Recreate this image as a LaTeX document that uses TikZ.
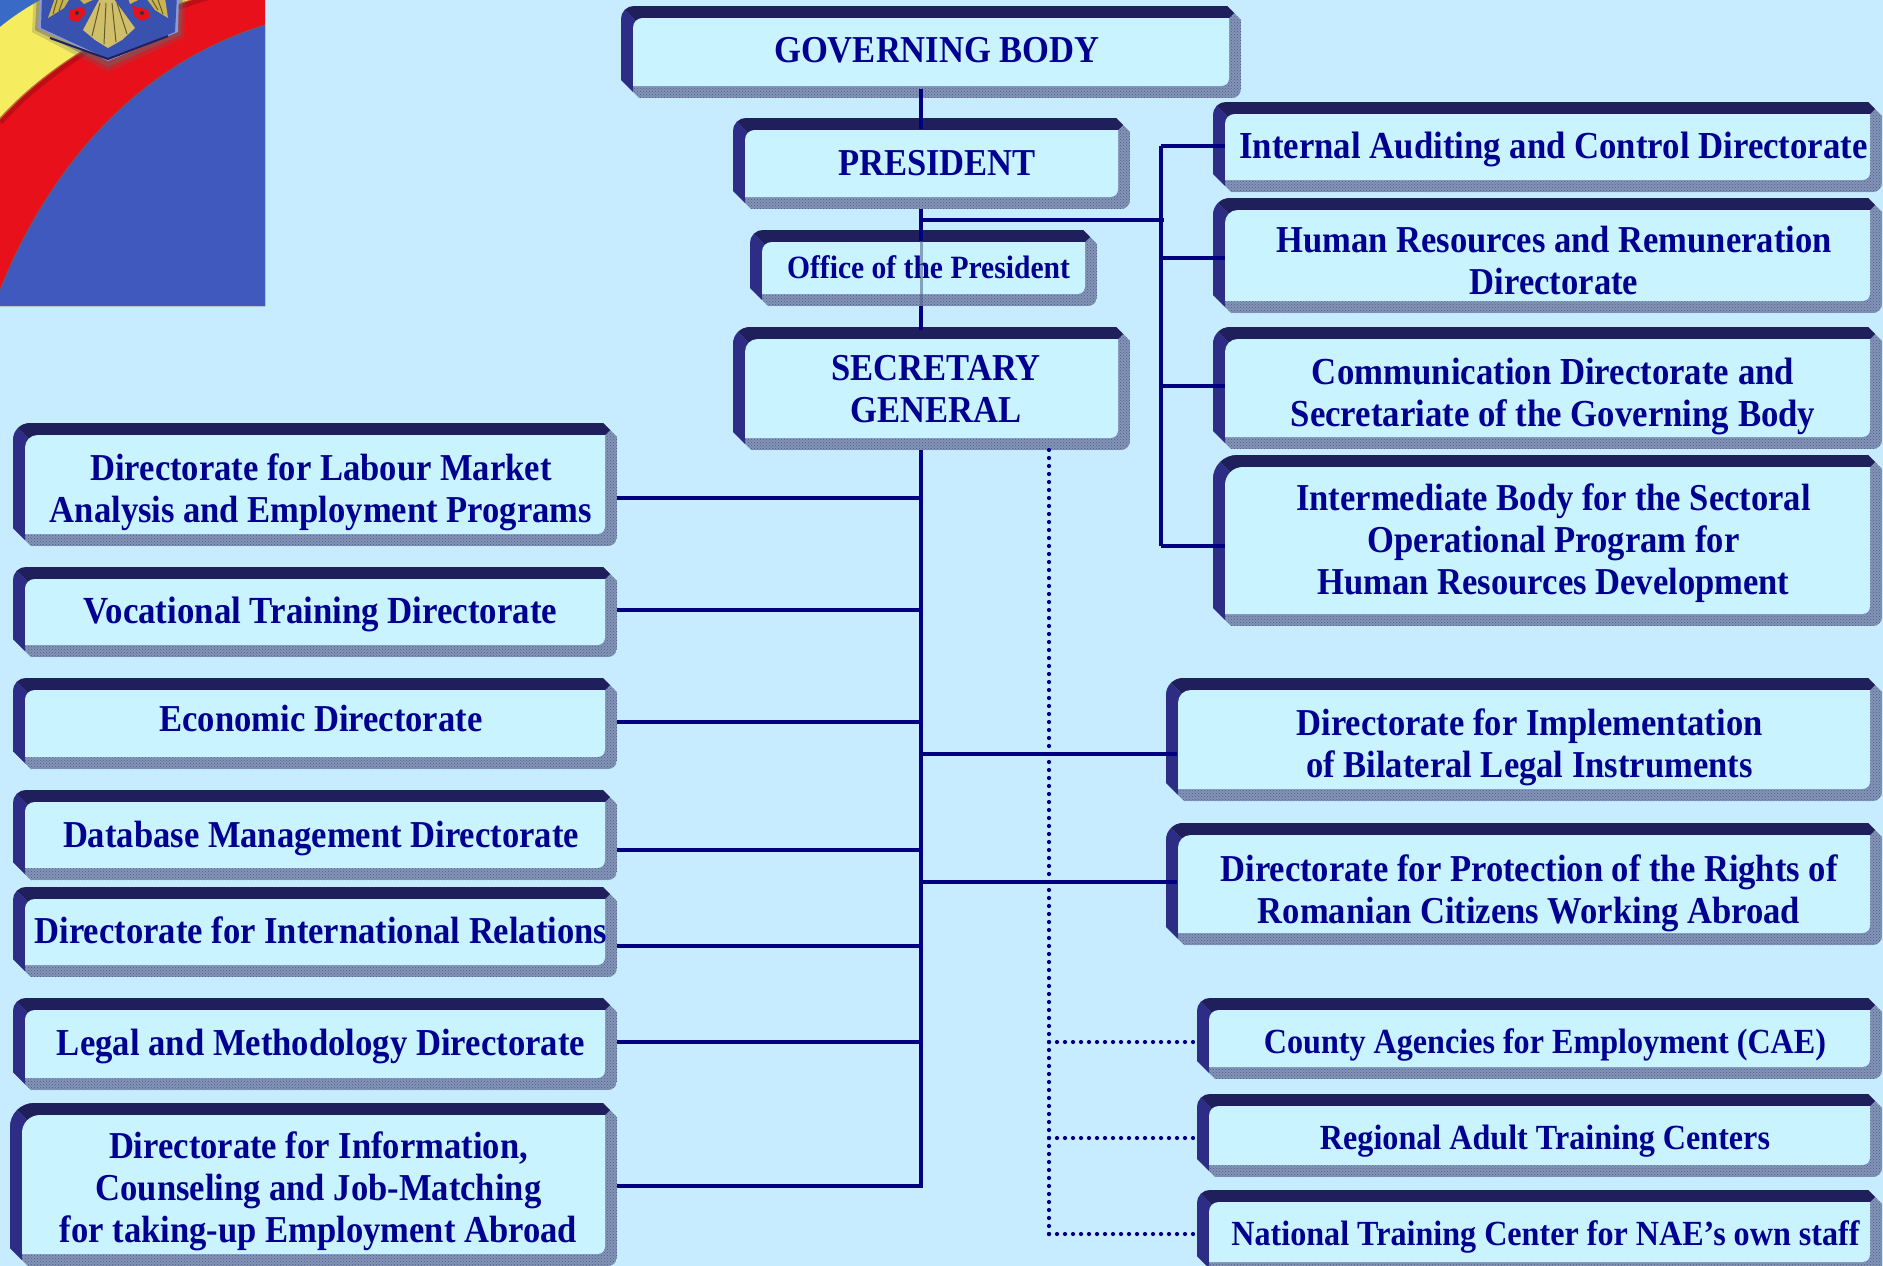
\documentclass[tikz,border=0pt]{standalone}
\usepackage{fontspec}
\setmainfont[FakeStretch=0.91]{Liberation Serif}
\usetikzlibrary{patterns}
\definecolor{bgcol}{HTML}{C8ECFF}
\definecolor{facecol}{HTML}{C9F3FF}
\definecolor{topcol}{HTML}{1F1F5C}
\definecolor{leftcol}{HTML}{2D2D85}
\definecolor{greycol}{HTML}{8494B8}
\definecolor{stipcol}{HTML}{4A5C88}
\definecolor{inkcol}{HTML}{000090}
\definecolor{linecol}{HTML}{000080}
\definecolor{logoblue}{HTML}{3F59BE}
\definecolor{logored}{HTML}{E8101A}
\definecolor{logoyellow}{HTML}{F5EC60}
\definecolor{logogold}{HTML}{C8B450}
\tikzset{
  boxframe/.style={inner sep=0pt,outer sep=0pt},
  boxtext/.style={inner sep=0pt,outer sep=0pt,align=center,text=inkcol,font=\bfseries},
  conn/.style={draw=linecol,line width=4pt},
  dotconn/.style={draw=linecol,line width=4.2pt,line cap=round,dash pattern=on 0pt off 8pt},
}
% [corner radius] name, x1, y1, x2, y2, font size, text position, text
\newcommand{\bevbox}[9][13]{%
  \begin{scope}
    \path[clip] ({#3+#1},#4) -- ({#5-14},#4) -- (#5,{#4+14}) -- (#5,{#6-9})
      .. controls (#5,{#6-4}) and ({#5-4},#6) .. ({#5-9},#6)
      -- ({#3+18},#6) -- (#3,{#6-18}) -- (#3,{#4+#1})
      .. controls (#3,{#4+0.45*#1}) and ({#3+0.45*#1},#4) .. ({#3+#1},#4) -- cycle;
    \fill[greycol] (#3,#4) rectangle (#5,#6);
    \fill[pattern=crosshatch dots,pattern color=stipcol] (#3,#4) rectangle (#5,#6);
    \fill[topcol] (#3,#4) -- (#5,#4) -- ({#5-12},{#4+12}) -- ({#3+30},{#4+12}) -- ({#3+30},{#4+30}) -- cycle;
    \fill[leftcol] (#3,#4) -- ({#3+30},{#4+30}) -- ({#3+12},{#4+30}) -- ({#3+12},#6) -- (#3,#6) -- cycle;
  \end{scope}
  \fill[facecol] ({#3+12+0.75*#1},{#4+12}) -- ({#5-12},{#4+12}) -- ({#5-12},{#6-12-8})
      .. controls ({#5-12},{#6-12-3}) and ({#5-12-3},{#6-12}) .. ({#5-12-8},{#6-12})
      -- ({#3+12},{#6-12}) -- ({#3+12},{#4+12+0.75*#1})
      .. controls ({#3+12},{#4+12+0.33*#1}) and ({#3+12+0.33*#1},{#4+12}) .. ({#3+12+0.75*#1},{#4+12}) -- cycle;
  \node[boxframe,minimum width={(#5-#3)*1pt},minimum height={(#6-#4)*1pt}] (#2) at ({(#3+#5)/2},{(#4+#6)/2}) {};
  \node[boxtext,font={\bfseries\fontsize{#7}{42}\selectfont}] (#2-text) at (#8) {#9};
}
\newcommand{\tln}[1]{\strut #1}
\begin{document}
\begin{tikzpicture}[x=1pt,y=-1pt]
\useasboundingbox (0,0) rectangle (1883,1266);
\fill[bgcol] (0,0) rectangle (1883,1266);
% emblem corner
\begin{scope}
  \clip (0,0) rectangle (265,306);
  \fill[logoblue!90!cyan] (0,0) rectangle (265,306);
  \fill[logoyellow] (0,27) .. controls (15,15) and (30,5) .. (50,-5) -- (265,-5) -- (265,306) -- (0,306) -- cycle;
  \fill[logored] (0,120) .. controls (40,75) and (110,25) .. (208,-5) -- (265,-5) -- (265,306) -- (0,306) -- cycle;
  \draw[logored!70!black,line width=6pt,opacity=.6] (0,122) .. controls (40,77) and (110,27) .. (208,-3);
  \fill[logoblue] (0,290) .. controls (40,190) and (120,70) .. (265,25) -- (265,306) -- (0,306) -- cycle;
  \draw[black!60,line width=1.2pt,opacity=.6] (0,290) .. controls (40,190) and (120,70) .. (265,25);
  \fill[black!60,opacity=.25] (34,-5) -- (32,32) -- (108,72) -- (184,38) -- (186,-5) -- cycle;
  \fill[black!60,opacity=.45] (37,-5) -- (35,30) -- (108,67) -- (181,35) -- (183,-5) -- cycle;
  \fill[logoblue!60!white] (40,-5) -- (38,28) -- (108,61) -- (178,32) -- (179,-5) -- cycle;
  \fill[logoblue!92!black] (42,-5) -- (41,28) -- (108,59) -- (175,32) -- (177,-5) -- cycle;
  \draw[topcol,line width=2pt] (50,38) -- (108,59) -- (168,36);
  % eagle
  \fill[logogold] (48,18) -- (55,-2) -- (70,-2) -- (64,8) -- cycle;
  \fill[logogold] (168,18) -- (165,-2) -- (146,-2) -- (155,10) -- cycle;
  \fill[logogold] (78,-2) -- (84,4) -- (97,-2) -- cycle;
  \fill[logogold] (128,-2) -- (130,4) -- (142,-2) -- cycle;
  \fill[logogold!85!white] (100,-2) -- (83,30) -- (95,40) -- (108,48) -- (122,40) -- (135,28) -- (113,-2) -- cycle;
  \draw[logogold!50!black,line width=1pt] (100,3) -- (92,36) (106,3) -- (104,44) (112,3) -- (116,42) (117,3) -- (127,34);
  \draw[logogold!50!black,line width=1pt] (57,0) -- (53,14) (63,0) -- (59,11) (158,0) -- (163,14) (152,0) -- (158,10);
  \fill[logored] (69,10) -- (84,7) -- (85,14) -- (78,22) -- (70,20) -- cycle;
  \fill[logored] (132,6) -- (148,10) -- (150,17) -- (142,21) -- (135,17) -- cycle;
  \fill[black!80] (77,13) circle (2);
  \fill[black!80] (142,13) circle (2);
\end{scope}
% boxes
\bevbox{gov}{621}{6}{1241}{98}{38}{937,54.5}{\tln{GOVERNING BODY}}
\bevbox{pres}{733}{118}{1130}{209}{38}{937,167}{\tln{PRESIDENT}}
\bevbox{office}{750}{230}{1097}{306}{32.5}{928.5,270.5}{\tln{Office of the President}}
\bevbox[17]{sec}{733}{327}{1130}{450}{38}{936,393.5}{\tln{SECRETARY}\\\tln{GENERAL}}
\bevbox{internal}{1213}{102}{1882}{192}{38.2}{1553.5,150.5}{\tln{Internal Auditing and Control Directorate}}
\bevbox[17]{human}{1213}{198}{1882}{313}{38}{1554,265}{\tln{Human Resources and Remuneration}\\\tln{Directorate}}
\bevbox[17]{comm}{1213}{327}{1882}{449}{38.2}{1553,397.5}{\tln{Communication Directorate and}\\\tln{Secretariate of the Governing Body}}
\bevbox[24]{inter}{1213}{455}{1882}{626}{38}{1553.5,544.5}{\tln{Intermediate Body for the Sectoral}\\\tln{Operational Program for}\\\tln{Human Resources Development}}
\bevbox[17]{labour}{13}{423}{617}{546}{38}{321,493.5}{\tln{Directorate for Labour Market}\\\tln{Analysis and Employment Programs}}
\bevbox{voc}{13}{567}{617}{657}{38.3}{320.5,615.3}{\tln{Vocational Training Directorate}}
\bevbox{eco}{13}{678}{617}{769}{38}{321,723.5}{\tln{Economic Directorate}}
\bevbox{db}{13}{790}{617}{880}{38}{321,839}{\tln{Database Management Directorate}}
\bevbox{intl}{13}{887}{617}{977}{38}{321,935}{\tln{Directorate for International Relations}}
\bevbox{legal}{13}{998}{617}{1090}{38.1}{321,1046.7}{\tln{Legal and Methodology Directorate}}
\bevbox[24]{info}{10}{1103}{617}{1266}{38}{318.5,1192.5}{\tln{Directorate for Information,}\\\tln{Counseling and Job-Matching}\\\tln{for taking-up Employment Abroad}}
\bevbox[17]{bilat}{1166}{678}{1882}{801}{38}{1529.5,748.5}{\tln{Directorate for Implementation}\\\tln{of Bilateral Legal Instruments}}
\bevbox[17]{prot}{1166}{823}{1882}{945}{38}{1529,894}{\tln{Directorate for Protection of the Rights of}\\\tln{Romanian Citizens Working Abroad}}
\bevbox{county}{1197}{998}{1882}{1079}{35.3}{1545,1045}{\tln{County Agencies for Employment (CAE)}}
\bevbox{regional}{1197}{1094}{1882}{1177}{35.3}{1545,1141}{\tln{Regional Adult Training Centers}}
\bevbox{national}{1197}{1190}{1882}{1274}{35.3}{1545.5,1237}{\tln{National Training Center for NAE’s own staff}}
% connectors
\coordinate (bus) at (921,0);
\coordinate (rbus) at (1161,0);
\coordinate (dbus) at (1049,0);
\coordinate (topjoin) at (921,220);
\draw[conn] (gov.south -| bus) ++(0,-9) -- ([yshift=-11pt]pres.north -| bus);
\draw[conn] (pres.south -| bus) -- ([yshift=-11pt]office.north -| bus);
\draw[draw=stipcol,line width=3pt,opacity=.55] ([yshift=-11pt]office.north -| bus) -- (office.south -| bus);
\draw[conn] (office.south -| bus) -- ([yshift=-3pt]sec.north -| bus);
\draw[conn] (sec.south -| bus) -- (bus |- 0,1188);
\draw[conn] (topjoin) -- ([xshift=3pt]rbus |- topjoin);
\draw[conn,line cap=square] (rbus |- 0,146) -- (rbus |- 0,546);
\foreach \n/\y in {internal/146,human/258,comm/386,inter/546}
  \draw[conn] (rbus |- 0,\y) -- ([xshift=12pt]\n.west |- 0,\y);
\foreach \n/\y in {labour/498,voc/610,eco/722,db/850,intl/946,legal/1042,info/1186}
  \draw[conn] (\n.east |- 0,\y) -- (bus |- 0,\y);
\foreach \n/\y in {bilat/754,prot/882}
  \draw[conn] (bus |- 0,\y) -- ([xshift=11pt]\n.west |- 0,\y);
\draw[dotconn] (dbus |- sec.south) -- (dbus |- 0,1234);
\foreach \n/\y in {county/1042,regional/1138,national/1234}
  \draw[dotconn] (dbus |- 0,\y) -- ([xshift=-3pt]\n.west |- 0,\y);
\end{tikzpicture}
\end{document}
